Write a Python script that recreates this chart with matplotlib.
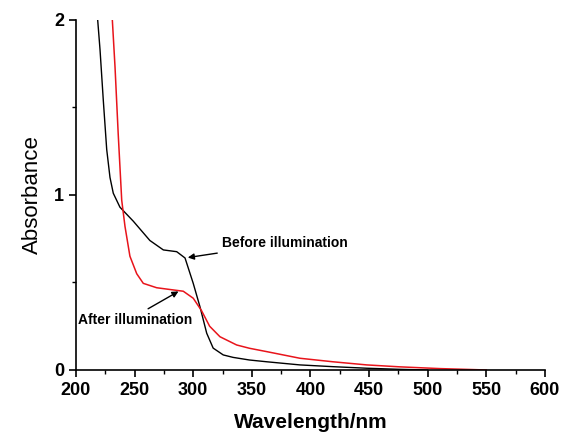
import numpy as np
import matplotlib
matplotlib.use("Agg")
import matplotlib.pyplot as plt

plt.rcParams['font.family'] = ['Liberation Sans', 'DejaVu Sans']

# UV-vis absorbance
wl_before = [218.5, 220.5, 223.3, 226.2, 229, 231.8, 237.5, 248.9, 263, 274.5,
             285.9, 293, 300, 305.8, 311.5, 317, 325.6, 334, 348, 362.6,
             391, 419, 448, 475, 500]
abs_before = [2.0, 1.83, 1.54, 1.26, 1.10, 1.01, 0.93, 0.85, 0.74, 0.686,
              0.676, 0.64, 0.495, 0.36, 0.21, 0.125, 0.086, 0.072, 0.057, 0.047,
              0.029, 0.019, 0.01, 0.004, 0.0]

wl_after = [231, 233.3, 236, 239, 241.8, 246, 251.8, 257.4, 268.8, 280,
            291.5, 300, 307, 314, 322.8, 337, 348, 362.6, 391, 419,
            448, 476, 510, 550]
abs_after = [2.0, 1.73, 1.35, 0.97, 0.82, 0.65, 0.55, 0.495, 0.47, 0.46,
             0.45, 0.41, 0.34, 0.25, 0.19, 0.143, 0.124, 0.105, 0.067, 0.047,
             0.029, 0.018, 0.008, 0.0]

fig = plt.figure(figsize=(5.65, 4.34), dpi=100)
ax = fig.add_axes([0.1345, 0.1475, 0.83, 0.8065])

ax.plot(wl_before, abs_before, color='black', lw=1.0)
ax.plot(wl_after, abs_after, color='#e8141b', lw=1.1)

ax.set_xlim(200, 600)
ax.set_ylim(0, 2)
ax.set_xticks(np.arange(200, 601, 50))
ax.set_xticks(np.arange(225, 600, 50), minor=True)
ax.set_yticks([0, 1, 2])
ax.set_yticks([0.5, 1.5], minor=True)

for s in ['top', 'right']:
    ax.spines[s].set_visible(False)
for s in ['left', 'bottom']:
    ax.spines[s].set_linewidth(1.2)

ax.tick_params(axis='both', which='major', direction='out', length=5, width=1.2,
               labelsize=13)
ax.tick_params(axis='both', which='minor', direction='out', length=3, width=1.0)
for lab in ax.get_xticklabels() + ax.get_yticklabels():
    lab.set_fontweight('bold')

ax.set_xlabel('Wavelength/nm', fontsize=15, fontweight='bold', labelpad=10)
ax.set_ylabel('Absorbance', fontsize=16, labelpad=8)

arrow = dict(arrowstyle='-|>', color='black', lw=1.0, mutation_scale=9)
ax.annotate('Before illumination', xy=(293, 0.64), xytext=(324.5, 0.726),
            fontsize=10, fontweight='bold', va='center', ha='left',
            arrowprops=arrow)
ax.annotate('After illumination', xy=(289.5, 0.457), xytext=(201.7, 0.286),
            fontsize=10, fontweight='bold', va='center', ha='left',
            arrowprops=dict(arrow, relpos=(0.55, 1.0)))

fig.savefig('out.png', dpi=100)
